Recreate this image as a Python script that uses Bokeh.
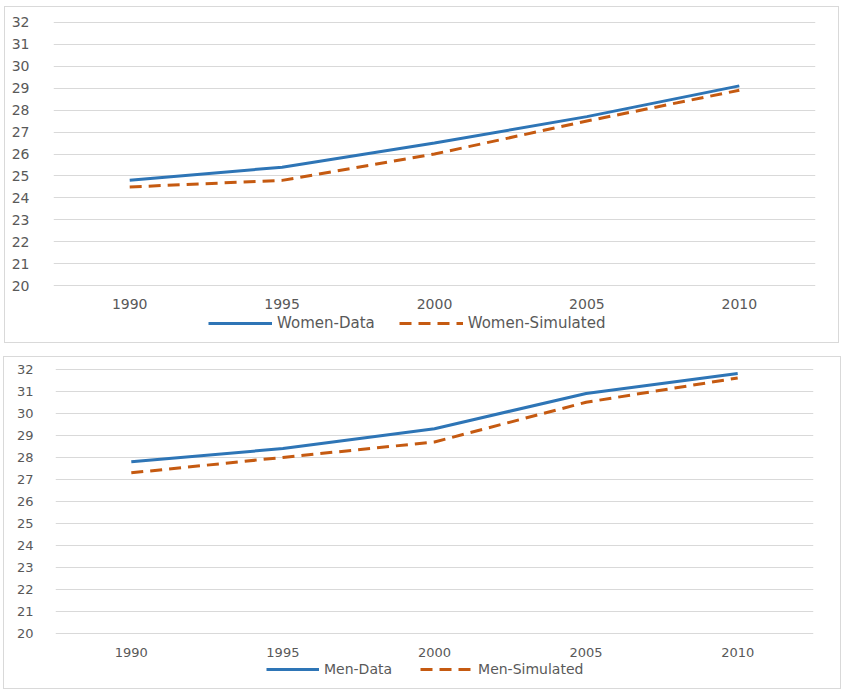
from bokeh.plotting import figure
from bokeh.models import Range1d, FixedTicker, Legend, LegendItem, Spacer
from bokeh.layouts import column, row
from bokeh.embed import file_html
from bokeh.resources import INLINE

years = [1990, 1995, 2000, 2005, 2010]
women_data = [24.8, 25.4, 26.5, 27.7, 29.1]
women_sim = [24.5, 24.8, 26.0, 27.5, 28.9]
men_data = [27.8, 28.4, 29.3, 30.9, 31.8]
men_sim = [27.3, 28.0, 28.7, 30.5, 31.6]
y_ticks = [20, 21, 22, 23, 24, 25, 26, 27, 28, 29, 30, 31, 32]

labels_top = ["Women-Data", "Women-Simulated"]
labels_bottom = ["Men-Data", "Men-Simulated"]

BLUE = "#2E75B6"
ORANGE = "#C55A11"
TEXT = "#595959"
GRID = "#d9d9d9"
FONT = "DejaVu Sans"
DASH = "12 7"


def make_chart(d1, d2, width, height, mb, fs, xstand, ystand):
    p = figure(width=width, height=height, output_backend="svg", toolbar_location=None,
               x_range=Range1d(1987.5, 2012.5), y_range=Range1d(19.97, 32.03),
               min_border_left=mb[0], min_border_right=mb[1],
               min_border_top=mb[2], min_border_bottom=mb[3])
    p.outline_line_color = None
    p.background_fill_color = "white"
    p.border_fill_color = "white"

    p.xgrid.visible = False
    p.ygrid.grid_line_color = GRID
    p.ygrid.grid_line_width = 1
    p.ygrid.ticker = FixedTicker(ticks=y_ticks)

    p.xaxis.ticker = FixedTicker(ticks=years)
    p.yaxis.ticker = FixedTicker(ticks=y_ticks)
    for ax in (p.xaxis[0], p.yaxis[0]):
        ax.axis_line_color = None
        ax.major_tick_line_color = None
        ax.minor_tick_line_color = None
        ax.major_label_text_color = TEXT
        ax.major_label_text_font = FONT
        ax.major_label_text_font_size = f"{fs}px"
    p.xaxis.major_label_standoff = xstand
    p.yaxis.major_label_standoff = ystand

    p.line(years, d1, line_color=BLUE, line_width=3)
    p.line(years, d2, line_color=ORANGE, line_width=3, line_dash=DASH)
    return p


def make_legend(d1, d2, labels, width, height, lfs, glyph_w, spacing, loc):
    # legend strip below the chart; its series lines lie outside this strip's view
    q = figure(width=width, height=height, output_backend="svg", toolbar_location=None,
               x_axis_type=None, y_axis_type=None,
               x_range=Range1d(0, 1), y_range=Range1d(0, 1),
               min_border_left=0, min_border_right=0, min_border_top=0, min_border_bottom=0)
    q.outline_line_color = None
    q.grid.visible = False
    q.background_fill_color = "white"
    q.border_fill_color = "white"
    r1 = q.line(years, d1, line_color=BLUE, line_width=3)
    r2 = q.line(years, d2, line_color=ORANGE, line_width=3, line_dash=DASH)
    legend = Legend(items=[LegendItem(label=labels[0], renderers=[r1]),
                           LegendItem(label=labels[1], renderers=[r2])],
                    orientation="horizontal", location=loc,
                    border_line_color=None, background_fill_alpha=0,
                    label_text_font=FONT, label_text_font_size=f"{lfs}px",
                    label_text_color=TEXT, glyph_width=glyph_w, glyph_height=14,
                    spacing=spacing, padding=0, margin=0, label_standoff=5)
    q.add_layout(legend)
    return q


border = {"border": "1px solid #d9d9d9"}

p1 = make_chart(women_data, women_sim, 833, 304, (48, 23, 14, 24), 14, 6, 18)
l1 = make_legend(women_data, women_sim, labels_top, 833, 31, 15, 64, 24, (155, 10))
box1 = column(p1, l1, spacing=0, styles=border)

p2 = make_chart(men_data, men_sim, 836, 302, (51, 27, 11, 23), 13, 7, 16)
l2 = make_legend(men_data, men_sim, labels_bottom, 836, 29, 14, 53, 28, (211, 11))
box2 = column(p2, l2, spacing=0, styles=border)

layout = column(Spacer(height=6),
                row(Spacer(width=4), box1),
                Spacer(height=13),
                row(Spacer(width=3), box2))
open("out.html", "w").write(file_html(layout, INLINE))
